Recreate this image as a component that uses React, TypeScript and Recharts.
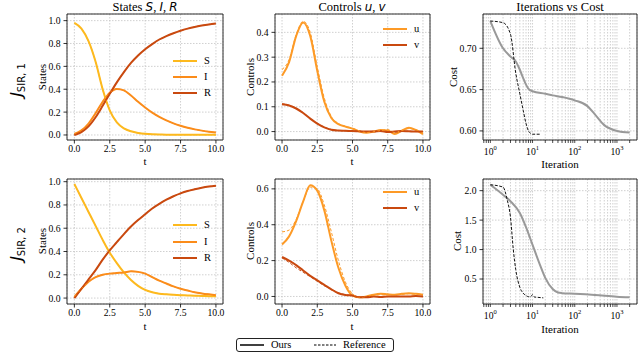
import React from 'react';
import { LineChart, Line, XAxis, YAxis, CartesianGrid, ReferenceArea } from 'recharts';

const SERIF = "'Liberation Serif', 'Times New Roman', serif";
const MATH = "'DejaVu Sans', sans-serif";

const C_S = '#fdb91e';
const C_I = '#fb8c1a';
const C_R = '#c9490f';
const C_U = '#fd9a26';
const C_V = '#c9490f';

// time grid
const T = [0, 0.5, 1, 1.5, 2, 2.5, 3, 3.5, 4, 4.5, 5, 5.5, 6, 6.5, 7, 7.5, 8, 8.5, 9, 9.5, 10];
const T_TICKS = [0, 2.5, 5, 7.5, 10];

// J_SIR,1 states
const S_1 = [0.98, 0.93, 0.82, 0.64, 0.4, 0.215, 0.11, 0.058, 0.032, 0.018, 0.01, 0.006, 0.004, 0.003, 0.002, 0.002, 0.002, 0.002, 0.002, 0.002, 0.002];
const I_1 = [0.01, 0.04, 0.1, 0.19, 0.29, 0.37, 0.403, 0.39, 0.345, 0.29, 0.24, 0.195, 0.158, 0.127, 0.101, 0.08, 0.063, 0.049, 0.038, 0.029, 0.021];
const R_1 = [0, 0.025, 0.075, 0.155, 0.255, 0.36, 0.46, 0.55, 0.63, 0.695, 0.75, 0.795, 0.835, 0.865, 0.89, 0.912, 0.93, 0.945, 0.957, 0.967, 0.975];
// J_SIR,1 controls
const U_1 = [0.225, 0.28, 0.385, 0.44, 0.385, 0.245, 0.12, 0.055, 0.03, 0.02, 0.012, 0.0, -0.005, 0.0, 0.006, 0.004, -0.01, 0.004, 0.015, 0.006, -0.01];
const U_1_REF = [0.25, 0.29, 0.39, 0.445, 0.4, 0.26, 0.135, 0.06, 0.032, 0.02, 0.014, 0.002, -0.004, 0.0, 0.004, 0.008, -0.004, 0.004, 0.012, 0.008, -0.004];
const V_1 = [0.11, 0.105, 0.093, 0.075, 0.052, 0.032, 0.017, 0.007, 0.004, 0.003, 0.002, 0.001, 0.0, 0.0, 0.002, -0.002, 0.0, 0.002, 0.001, 0.0, 0.0];
const V_1_REF = [0.112, 0.106, 0.095, 0.076, 0.053, 0.033, 0.018, 0.008, 0.004, 0.003, 0.002, 0.001, 0.0, 0.001, 0.0, 0.0, -0.002, 0.0, 0.002, 0.0, 0.0];

// J_SIR,2 states
const S_2 = [0.98, 0.86, 0.74, 0.62, 0.5, 0.39, 0.3, 0.22, 0.155, 0.105, 0.07, 0.05, 0.038, 0.032, 0.028, 0.025, 0.022, 0.02, 0.018, 0.016, 0.015];
const I_2 = [0.01, 0.08, 0.14, 0.18, 0.2, 0.21, 0.215, 0.22, 0.23, 0.225, 0.21, 0.18, 0.15, 0.125, 0.1, 0.08, 0.065, 0.05, 0.04, 0.032, 0.025];
const R_2 = [0, 0.08, 0.16, 0.24, 0.33, 0.41, 0.48, 0.55, 0.615, 0.67, 0.72, 0.77, 0.81, 0.845, 0.875, 0.9, 0.92, 0.935, 0.948, 0.958, 0.965];
// J_SIR,2 controls
const U_2 = [0.29, 0.335, 0.42, 0.53, 0.62, 0.59, 0.48, 0.31, 0.16, 0.06, 0.005, -0.005, 0.0, 0.01, 0.015, 0.012, 0.01, 0.015, 0.018, 0.015, 0.01];
const U_2_REF = [0.36, 0.37, 0.43, 0.53, 0.61, 0.6, 0.51, 0.36, 0.2, 0.08, 0.015, -0.005, 0.0, 0.005, 0.01, 0.008, 0.01, 0.012, 0.015, 0.012, 0.01];
const V_2 = [0.22, 0.2, 0.175, 0.145, 0.115, 0.09, 0.065, 0.04, 0.018, 0.008, 0.005, -0.005, -0.005, 0.0, -0.003, 0.0, 0.0, 0.0, 0.0, 0.002, 0.0];
const V_2_REF = [0.215, 0.19, 0.16, 0.135, 0.11, 0.085, 0.06, 0.04, 0.02, 0.01, 0.005, -0.003, 0.0, 0.0, 0.0, 0.0, 0.0, 0.0, 0.0, 0.0, 0.0];

// Iterations vs cost
const IT_OURS_1 = [1, 2, 3, 4, 5, 6, 7, 8, 10, 20, 30, 50, 100, 200, 300, 500, 1000, 2000];
const COST_OURS_1 = [0.733, 0.7, 0.69, 0.684, 0.674, 0.664, 0.656, 0.651, 0.648, 0.645, 0.643, 0.641, 0.637, 0.63, 0.62, 0.607, 0.6, 0.598];
const IT_REF_1 = [1, 2, 3, 4, 5, 6, 7, 8, 9, 10, 12, 15];
const COST_REF_1 = [0.733, 0.731, 0.717, 0.67, 0.645, 0.625, 0.609, 0.6, 0.597, 0.596, 0.596, 0.596];
const IT_OURS_2 = [1, 2, 3, 5, 7, 10, 15, 20, 30, 40, 50, 100, 300, 1000, 2000];
const COST_OURS_2 = [2.1, 1.93, 1.82, 1.62, 1.38, 1.08, 0.74, 0.52, 0.33, 0.27, 0.26, 0.25, 0.23, 0.2, 0.19];
const IT_REF_2 = [1, 2, 2.5, 3, 3.5, 4, 5, 6, 7, 8, 9, 10, 11, 13, 18];
const COST_REF_2 = [2.1, 2.06, 1.85, 1.55, 1.0, 0.66, 0.36, 0.26, 0.22, 0.2, 0.2, 0.235, 0.195, 0.19, 0.18];

const LOG_TICKS = [0.7, 0.8, 0.9, 1, 2, 3, 4, 5, 6, 7, 8, 9, 10, 20, 30, 40, 50, 60, 70, 80, 90, 100, 200, 300, 400, 500, 600, 700, 800, 900, 1000, 2000];

const zipT = (cols: Record<string, number[]>) =>
  T.map((t, i) => {
    const row: Record<string, number> = { t };
    Object.keys(cols).forEach((k) => (row[k] = cols[k][i]));
    return row;
  });
const zipIt = (its: number[], costs: number[]) => its.map((it, i) => ({ it, c: costs[i] }));

const LogTick = (props: any) => {
  const { x, y, payload } = props;
  const v = payload.value;
  const e = Math.round(Math.log10(v));
  if (Math.abs(Math.pow(10, e) - v) > 1e-9) return <g />;
  return (
    <text x={x} y={y + 10} textAnchor="middle" fontFamily={SERIF} fontSize={9.7} fill="#000">
      <tspan>10</tspan>
      <tspan dy={-4.5} fontSize={6.5}>{e}</tspan>
    </text>
  );
};

type LineSpec = { key: string; color: string; width: number; dash?: string; data?: any[] };

type PanelProps = {
  L: number; R: number; T: number; B: number;
  data?: any[];
  log?: boolean;
  xDomain: [number, number];
  yDomain: [number, number];
  yTicks: number[];
  yDigits: number;
  lines: LineSpec[];
};

function Panel(p: PanelProps) {
  const ML = 50, MT = 10, MR = 12, MB = 34;
  const w = p.R - p.L + ML + MR;
  const h = p.B - p.T + MT + MB;
  const tickStyle = { fontSize: 9.7, fontFamily: SERIF, fill: '#000' };
  return (
    <div style={{ position: 'absolute', left: p.L - ML, top: p.T - MT }}>
      <LineChart width={w} height={h} data={p.data} margin={{ top: MT, right: MR, left: 0, bottom: 0 }}>
        <CartesianGrid stroke="#c4c4c4" strokeDasharray="1.5 1.5" strokeWidth={0.8} />
        {p.log ? (
          <XAxis
            dataKey="it"
            type="number"
            scale="log"
            domain={p.xDomain}
            allowDataOverflow
            ticks={LOG_TICKS}
            interval={0}
            height={MB}
            tickSize={3}
            tickMargin={1.5}
            axisLine={false}
            tickLine={{ stroke: '#000', strokeWidth: 0.7 }}
            tick={<LogTick />}
          />
        ) : (
          <XAxis
            dataKey="t"
            type="number"
            domain={p.xDomain}
            allowDataOverflow
            ticks={T_TICKS}
            interval={0}
            height={MB}
            tickSize={3.5}
            tickMargin={1.5}
            axisLine={false}
            tickLine={{ stroke: '#000', strokeWidth: 0.8 }}
            tick={tickStyle}
            tickFormatter={(v: number) => v.toFixed(1)}
          />
        )}
        <YAxis
          type="number"
          domain={p.yDomain}
          allowDataOverflow
          ticks={p.yTicks}
          interval={0}
          width={ML}
          tickSize={3.5}
          tickMargin={3}
          axisLine={false}
          tickLine={{ stroke: '#000', strokeWidth: 0.8 }}
          tick={tickStyle}
          tickFormatter={(v: number) => v.toFixed(p.yDigits)}
        />
        {p.lines.map((l, i) => (
          <Line
            key={l.key + i}
            data={l.data}
            dataKey={l.key}
            type="monotone"
            stroke={l.color}
            strokeWidth={l.width}
            strokeDasharray={l.dash}
            dot={false}
            activeDot={false}
            isAnimationActive={false}
          />
        ))}
        <ReferenceArea
          x1={p.xDomain[0]}
          x2={p.xDomain[1]}
          y1={p.yDomain[0]}
          y2={p.yDomain[1]}
          fill="none"
          fillOpacity={0}
          stroke="#1a1a1a"
          strokeWidth={0.9}
          ifOverflow="visible"
        />
      </LineChart>
    </div>
  );
}

const Txt = (props: { x: number; y: number; size?: number; rotate?: number; children: React.ReactNode; left?: boolean }) => (
  <div
    style={{
      position: 'absolute',
      left: props.x,
      top: props.y,
      transform: `translate(${props.left ? '0' : '-50%'},-50%) rotate(${props.rotate || 0}deg)`,
      fontFamily: SERIF,
      fontSize: props.size || 11,
      whiteSpace: 'nowrap',
      lineHeight: 1,
      color: '#000',
    }}
  >
    {props.children}
  </div>
);

const Mi = (props: { children: React.ReactNode }) => (
  <span style={{ fontFamily: MATH, fontStyle: 'italic', fontSize: '0.95em' }}>{props.children}</span>
);

const LegendItem = (props: { x: number; y: number; color: string; label: string; dash?: string; width?: number; len?: number }) => (
  <>
    <svg style={{ position: 'absolute', left: props.x, top: props.y - 3 }} width={props.len || 24} height={6}>
      <line x1={0} y1={3} x2={props.len || 24} y2={3} stroke={props.color} strokeWidth={props.width || 2} strokeDasharray={props.dash} />
    </svg>
    <Txt x={props.x + (props.len || 24) + 7} y={props.y} size={10.5} left>
      {props.label}
    </Txt>
  </>
);

const RowLabel = (props: { y: number; idx: string }) => (
  <div
    style={{
      position: 'absolute',
      left: 17,
      top: props.y,
      transform: 'translate(-50%,-50%) rotate(-90deg)',
      whiteSpace: 'nowrap',
      lineHeight: 1,
      color: '#000',
    }}
  >
    <span style={{ fontFamily: MATH, fontStyle: 'italic', fontSize: 16 }}>J</span>
    <span style={{ fontFamily: MATH, fontSize: 10, position: 'relative', top: 3 }}>{'SIR, ' + props.idx}</span>
  </div>
);

export default function App() {
  const st1 = zipT({ S: S_1, I: I_1, R: R_1 });
  const ct1 = zipT({ u: U_1, ur: U_1_REF, v: V_1, vr: V_1_REF });
  const st2 = zipT({ S: S_2, I: I_2, R: R_2 });
  const ct2 = zipT({ u: U_2, ur: U_2_REF, v: V_2, vr: V_2_REF });

  const stateLines: LineSpec[] = [
    { key: 'S', color: C_S, width: 2 },
    { key: 'I', color: C_I, width: 2 },
    { key: 'R', color: C_R, width: 2 },
    { key: 'S', color: C_S, width: 1, dash: '3 2' },
    { key: 'I', color: C_I, width: 1, dash: '3 2' },
    { key: 'R', color: C_R, width: 1, dash: '3 2' },
  ];
  const ctrlLines: LineSpec[] = [
    { key: 'u', color: C_U, width: 2 },
    { key: 'v', color: C_V, width: 2 },
    { key: 'ur', color: C_U, width: 1, dash: '3 2' },
    { key: 'vr', color: C_V, width: 1, dash: '3 2' },
  ];
  const costLines = (io: number[], co: number[], ir: number[], cr: number[]): LineSpec[] => [
    { key: 'c', color: '#999999', width: 2, data: zipIt(io, co) },
    { key: 'c', color: '#111111', width: 1, dash: '3 1.5', data: zipIt(ir, cr) },
  ];

  return (
    <div style={{ position: 'absolute', left: 0, top: 0, width: 640, height: 360, background: '#fff', overflow: 'hidden' }}>
      <Panel L={67} R={223} T={14} B={140} data={st1} xDomain={[-0.52, 10.5]} yDomain={[-0.044, 1.058]} yTicks={[0, 0.2, 0.4, 0.6, 0.8, 1.0]} yDigits={1} lines={stateLines} />
      <Panel L={275} R={430} T={14} B={140} data={ct1} xDomain={[-0.5, 10.5]} yDomain={[-0.034, 0.474]} yTicks={[0, 0.1, 0.2, 0.3, 0.4]} yDigits={1} lines={ctrlLines} />
      <Panel L={483} R={637} T={14} B={140} log xDomain={[0.67, 2985]} yDomain={[0.589, 0.7415]} yTicks={[0.6, 0.65, 0.7]} yDigits={2} lines={costLines(IT_OURS_1, COST_OURS_1, IT_REF_1, COST_REF_1)} />
      <Panel L={67} R={223} T={179} B={304} data={st2} xDomain={[-0.52, 10.5]} yDomain={[-0.051, 1.023]} yTicks={[0, 0.2, 0.4, 0.6, 0.8, 1.0]} yDigits={1} lines={stateLines} />
      <Panel L={275} R={430} T={179} B={304} data={ct2} xDomain={[-0.5, 10.5]} yDomain={[-0.042, 0.655]} yTicks={[0, 0.2, 0.4, 0.6]} yDigits={1} lines={ctrlLines} />
      <Panel L={483} R={637} T={179} B={304} log xDomain={[0.67, 2985]} yDomain={[0.076, 2.198]} yTicks={[0.5, 1.0, 1.5, 2.0]} yDigits={1} lines={costLines(IT_OURS_2, COST_OURS_2, IT_REF_2, COST_REF_2)} />

      {/* titles */}
      <Txt x={145} y={7} size={12.5}>States <Mi>S</Mi>, <Mi>I</Mi>, <Mi>R</Mi></Txt>
      <Txt x={352} y={7} size={12.5}>Controls <Mi>u</Mi>, <Mi>v</Mi></Txt>
      <Txt x={560} y={7} size={12.5}>Iterations vs Cost</Txt>

      {/* axis labels */}
      <Txt x={42} y={77} rotate={-90}>States</Txt>
      <Txt x={250} y={77} rotate={-90}>Controls</Txt>
      <Txt x={453} y={77} rotate={-90}>Cost</Txt>
      <Txt x={145} y={161}>t</Txt>
      <Txt x={352} y={161}>t</Txt>
      <Txt x={560} y={164}>Iteration</Txt>
      <Txt x={42} y={241} rotate={-90}>States</Txt>
      <Txt x={250} y={241} rotate={-90}>Controls</Txt>
      <Txt x={457} y={241} rotate={-90}>Cost</Txt>
      <Txt x={145} y={326}>t</Txt>
      <Txt x={352} y={326}>t</Txt>
      <Txt x={560} y={329}>Iteration</Txt>

      {/* row labels */}
      <RowLabel y={80} idx="1" />
      <RowLabel y={244} idx="2" />

      {/* in-panel legends */}
      <LegendItem x={173} y={61} color={C_S} label="S" />
      <LegendItem x={173} y={77} color={C_I} label="I" />
      <LegendItem x={173} y={93} color={C_R} label="R" />
      <LegendItem x={383} y={29} color={C_U} label="u" />
      <LegendItem x={383} y={45} color={C_V} label="v" />
      <LegendItem x={173} y={225} color={C_S} label="S" />
      <LegendItem x={173} y={242} color={C_I} label="I" />
      <LegendItem x={173} y={258} color={C_R} label="R" />
      <LegendItem x={383} y={192} color={C_U} label="u" />
      <LegendItem x={383} y={208} color={C_V} label="v" />

      {/* bottom legend */}
      <div style={{ position: 'absolute', left: 236, top: 338, width: 158, height: 14, border: '1px solid #222', borderRadius: 3, boxSizing: 'border-box' }} />
      <LegendItem x={240} y={345} color="#000" label="Ours" width={1.5} />
      <LegendItem x={314} y={345} color="#000" label="Reference" width={1} dash="2.5 1.5" len={22} />
    </div>
  );
}
